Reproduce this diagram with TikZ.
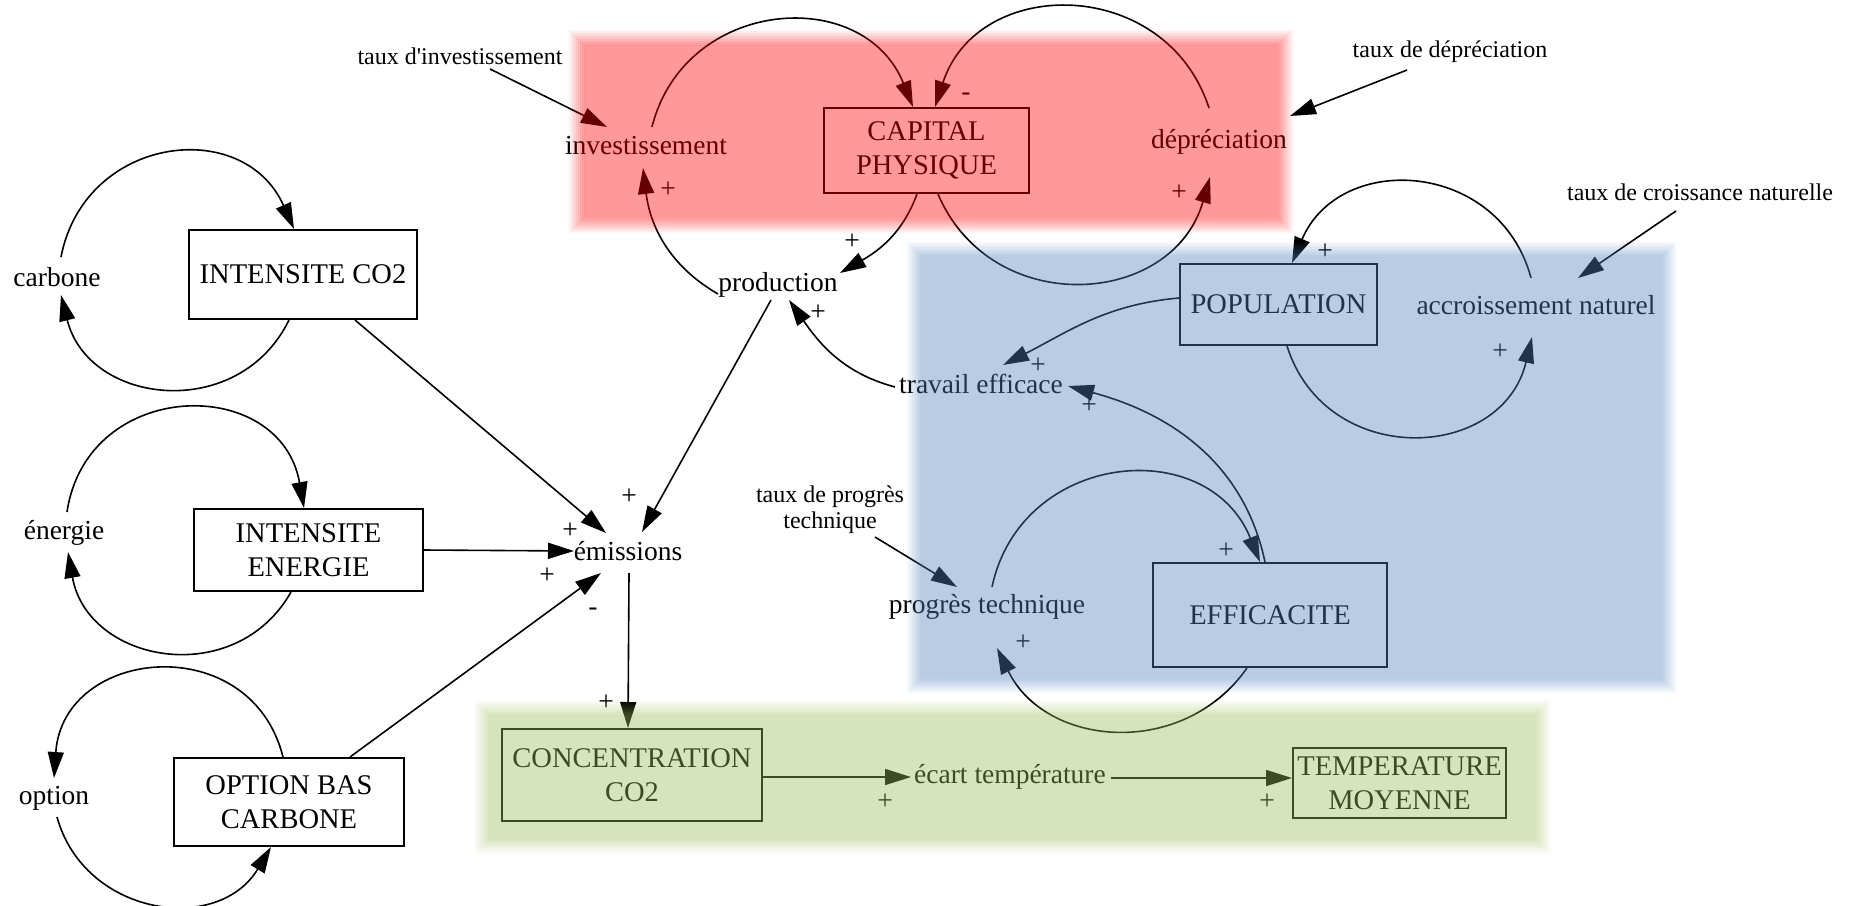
\documentclass[tikz,border=0pt]{standalone}
\usepackage{fontspec}
\setmainfont{Liberation Serif}
\usetikzlibrary{arrows.meta,calc}
\definecolor{panelred}{HTML}{FF0000}
\definecolor{panelblue}{HTML}{4F81BD}
\definecolor{panelgreen}{HTML}{9BBB59}
% straight apostrophe, bypassing the TeX quote mapping
\newcommand\apos{\XeTeXglyph\XeTeXcharglyph"0027\relax}
% translucent panel with a soft edge: colour, x1, y1, x2, y2 (y counted downwards)
\newcommand\softpanel[5]{%
  \foreach \k in {0,...,7}{%
    \pgfmathsetmacro\ringop{0.4*(\k+0.5)/8}%
    \fill[#1, fill opacity=\ringop, even odd rule]
      ({#2-7+2*\k},{-(#3)+7-2*\k}) rectangle ({#4+7-2*\k},{-(#5)-7+2*\k})
      ({#2-5+2*\k},{-(#3)+5-2*\k}) rectangle ({#4+5-2*\k},{-(#5)-5+2*\k});
  }%
  \fill[#1, fill opacity=0.4] ({#2+9},{-(#3)-9}) rectangle ({#4-9},{-(#5)+9});
}
\begin{document}
\begin{tikzpicture}[x=1pt,y=1pt,
  txt/.style={font=\fontsize{27.5}{34}\selectfont, inner sep=0pt, align=center},
  aux/.style={font=\fontsize{24}{26}\selectfont, inner sep=0pt, align=center},
  sign/.style={font=\fontsize{27.5}{34}\selectfont, inner sep=0pt},
  stock/.style={font=\fontsize{28.5}{34}\selectfont, inner sep=0pt, align=center, draw, line width=2pt},
  link/.style={line width=1.6pt, -{Triangle[length=26pt,width=16pt]}},
]
\fill[white] (0,0) rectangle (1852,-905);
\useasboundingbox (0,0) rectangle (1852,-905);

% stocks
\node[stock, minimum width=205pt, minimum height=85pt] (cap) at (926.5,-150.5) {CAPITAL\\PHYSIQUE};
\node[stock, minimum width=228pt, minimum height=89pt] (ico2) at (303,-274.5) {INTENSITE CO2};
\node[stock, minimum width=229pt, minimum height=82pt] (iener) at (308.5,-550) {INTENSITE\\ENERGIE};
\node[stock, minimum width=230pt, minimum height=88pt] (obc) at (289,-802) {OPTION BAS\\CARBONE};
\node[stock, minimum width=260pt, minimum height=92pt] (conc) at (632,-775) {CONCENTRATION\\CO2};
\node[stock, minimum width=213pt, minimum height=70pt] (temp) at (1399.5,-783) {TEMPERATURE\\MOYENNE};
\node[stock, minimum width=197pt, minimum height=81pt] (pop) at (1278.5,-304.5) {POPULATION};
\node[stock, minimum width=234pt, minimum height=104pt] (eff) at (1270,-615) {EFFICACITE};

% flows and auxiliaries
\node[txt] (inv) at (646,-146) {investissement};
\node[txt] (prod) at (778,-285) {production};
\node[txt] (dep) at (1219,-142) {dépréciation};
\node[aux] (tinv) at (460,-56) {taux d\apos investissement};
\node[aux] (tdep) at (1450,-52) {taux de dépréciation};
\node[aux] (tcn) at (1700,-192) {taux de croissance naturelle};
\node[txt] (acc) at (1536,-305) {accroissement naturel};
\node[txt] (trav) at (981,-384) {travail efficace};
\node[txt] (prog) at (987,-607) {progrès technique};
\node[aux] (tprog) at (830,-510) {taux de progrès\\technique};
\node[txt] (ecart) at (1010,-777) {écart température};
\node[txt] (emi) at (628,-551) {émissions};
\node[txt] (carb) at (57,-277) {carbone};
\node[txt] (ener) at (64,-533) {énergie};
\node[txt] (opt) at (54,-798) {option};

% capital loop
\draw[link] ($(tinv)+(30,-13)$) -- ($(inv)+(-39,19)$);
\draw[link] ($(inv)+(6,19)$) .. controls +(76:133) and +(112:133) .. ($(cap.north)+(-13.5,0)$);
\draw[link] ($(dep)+(-10,34)$) .. controls +(108:139) and +(72:139) .. ($(cap.north)+(8.5,0)$);
\draw[link] ($(cap.south)+(-9.5,0)$) to[out=-110,in=30] ($(prod)+(62,12)$);
\draw[link] ($(prod)+(-60,-9)$) to[out=150,in=-83] ($(inv)+(-3,-22)$);
\draw[link] ($(cap.south)+(11.5,0)$) .. controls +(-67:136) and +(254:136) .. ($(dep)+(-9,-35)$);
\draw[link] ($(tdep)+(-43,-18)$) -- ($(dep)+(71,26)$);

% population and efficiency
\draw[link] ($(acc)+(-5,27)$) .. controls +(105:122) and +(67:122) .. ($(pop.north)+(13.5,0)$);
\draw[link] ($(pop.south)+(8.5,0)$) .. controls +(-72.5:129) and +(256.6:129) .. ($(acc)+(-4,-32)$);
\draw[link] ($(tcn)+(-24,-19)$) -- ($(acc)+(42,27)$);
\draw[link] ($(pop.west)+(0,6.5)$) to[out=185,in=27] ($(trav)+(22,19)$);
\draw[link] ($(trav)+(-86,-3)$) to[out=165,in=-55] ($(prod)+(11,-15)$);
\draw[link] ($(eff.north)+(-5,0)$) to[out=102,in=-15] ($(trav)+(87,-2)$);
\draw[link] ($(prog)+(5,20)$) .. controls +(78:139) and +(112:139) .. ($(eff.north)+(-10,0)$);
\draw[link] ($(eff.south)+(-23,0)$) .. controls +(-125:111) and +(-64:111) .. ($(prog)+(10,-41)$);
\draw[link] ($(tprog)+(45,-27)$) -- ($(prog)+(-30,20)$);

% emissions and climate
\draw[link] ($(ico2.south)+(52,0)$) -- ($(emi)+(-22,18)$);
\draw[link] ($(prod)+(-7,-15)$) -- ($(emi)+(14,19)$);
\draw[link] (iener.east) -- ($(emi)+(-54,0)$);
\draw[link] ($(obc.north)+(61,0)$) -- ($(emi)+(-27,-22)$);
\draw[link] ($(emi)+(1,-22)$) -- ($(conc.north)+(-4,0)$);
\draw[link] ($(conc.east)+(0,-2)$) -- ($(ecart)+(-99,0)$);
\draw[link] ($(ecart)+(101,-1)$) -- ($(temp.west)+(0,5)$);

% self loops of the intensities
\draw[link] ($(carb)+(4,20)$) .. controls +(79:124) and +(114:124) .. ($(ico2.north)+(-9,0)$);
\draw[link] ($(ico2.south)+(-14,0)$) .. controls +(-116:114) and +(-76:114) .. ($(carb)+(4,-18)$);
\draw[link] ($(ener)+(3,21)$) .. controls +(81.5:136) and +(100:136) .. ($(iener.north)+(-4.5,0)$);
\draw[link] ($(iener.south)+(-17.5,0)$) .. controls +(-119.5:113) and +(-80:113) .. ($(ener)+(4,-19)$);
\draw[link] ($(obc.north)+(-6,0)$) .. controls +(104:132) and +(86:132) .. ($(opt)+(0,20)$);
\draw[link] ($(opt)+(3,-19)$) .. controls +(-74.5:103) and +(239:103) .. ($(obc.south)+(-18,0)$);

% polarity signs
\node[sign] (s1) at (668,-190) {+};
\node[sign] (s2) at (966,-97) {-};
\node[sign] (s3) at (852,-242) {+};
\node[sign] (s4) at (1179,-193) {+};
\node[sign] (s5) at (818,-313) {+};
\node[sign] (s6) at (1325,-252) {+};
\node[sign] (s7) at (1500,-352) {+};
\node[sign] (s8) at (1038,-366) {+};
\node[sign] (s9) at (1089,-406) {+};
\node[sign] (s10) at (1226,-551) {+};
\node[sign] (s11) at (1023,-643) {+};
\node[sign] (s12) at (629,-497) {+};
\node[sign] (s13) at (570,-531) {+};
\node[sign] (s14) at (547,-576) {+};
\node[sign] (s15) at (593,-612) {-};
\node[sign] (s16) at (606,-703) {+};
\node[sign] (s17) at (885,-802) {+};
\node[sign] (s18) at (1267,-802) {+};

% sector panels laid over the drawing
\softpanel{panelred}{575}{36}{1287}{227}
\softpanel{panelblue}{913}{248}{1670}{687}
\softpanel{panelgreen}{481}{707}{1544}{847}
\end{tikzpicture}
\end{document}
